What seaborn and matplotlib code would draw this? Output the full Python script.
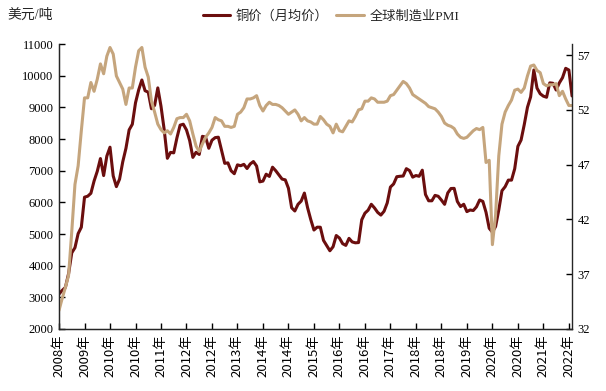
import numpy as np
import pandas as pd
import matplotlib
matplotlib.use('Agg')
import matplotlib.pyplot as plt
import seaborn as sns

# --- data: monthly, Dec 2008 .. May 2022 ---
months = pd.date_range('2008-12-01', periods=162, freq='MS')

copper = [3105,
          3220, 3315, 3750, 4407, 4569, 5014, 5216, 6165, 6196, 6288, 6676, 6982,
          7386, 6848, 7463, 7745, 6838, 6499, 6735, 7284, 7709, 8292, 8469, 9147,
          9556, 9868, 9530, 9483, 8960, 9067, 9619, 9040, 8300, 7394, 7581, 7566,
          8040, 8441, 8471, 8289, 7955, 7423, 7584, 7515, 8088, 8062, 7711, 7966,
          8047, 8061, 7646, 7234, 7250, 7000, 6907, 7187, 7159, 7203, 7071, 7215,
          7291, 7149, 6650, 6674, 6891, 6821, 7113, 7002, 6872, 6737, 6713, 6446,
          5831, 5729, 5940, 6042, 6295, 5833, 5457, 5127, 5217, 5216, 4800, 4639,
          4472, 4599, 4954, 4873, 4696, 4642, 4864, 4751, 4723, 4731, 5451, 5660,
          5755, 5941, 5825, 5684, 5600, 5720, 5985, 6485, 6583, 6812, 6826, 6834,
          7066, 7006, 6799, 6850, 6825, 7018, 6250, 6051, 6051, 6222, 6194, 6073,
          5939, 6300, 6439, 6444, 6030, 5868, 5941, 5709, 5760, 5744, 5860, 6077,
          6031, 5687, 5183, 5058, 5239, 5758, 6369, 6497, 6705, 6704, 7064, 7772,
          7971, 8460, 9005, 9336, 10184, 9612, 9433, 9357, 9323, 9778, 9765, 9551,
          9776, 9941, 10237, 10183, 9363]

pmi = [33.7,
       34.8, 35.8, 36.9, 40.9, 45.2, 46.9, 50.1, 53.1, 53.1, 54.5, 53.7, 54.8,
       56.2, 55.3, 56.9, 57.7, 57.1, 55.1, 54.5, 53.9, 52.5, 54.0, 54.0, 55.9,
       57.4, 57.7, 55.9, 55.0, 52.8, 51.8, 50.7, 50.2, 49.9, 50.1, 49.8, 50.4,
       51.2, 51.3, 51.3, 51.6, 51.0, 49.8, 48.7, 48.2, 48.9, 49.5, 49.9, 50.4,
       51.3, 51.1, 51.0, 50.5, 50.5, 50.4, 50.5, 51.6, 51.8, 52.2, 53.0, 53.0,
       53.1, 53.3, 52.4, 51.9, 52.4, 52.7, 52.5, 52.5, 52.4, 52.2, 51.9, 51.6,
       51.8, 52.0, 51.6, 51.0, 51.3, 51.0, 50.9, 50.7, 50.7, 51.4, 51.1, 50.7,
       50.5, 49.9, 50.7, 50.1, 50.0, 50.5, 51.0, 50.9, 51.4, 52.0, 52.1, 52.8,
       52.8, 53.1, 53.0, 52.7, 52.7, 52.7, 52.8, 53.3, 53.4, 53.8, 54.2, 54.6,
       54.4, 54.0, 53.4, 53.2, 53.0, 52.8, 52.6, 52.3, 52.2, 52.1, 51.8, 51.4,
       50.8, 50.6, 50.5, 50.3, 49.8, 49.5, 49.4, 49.5, 49.8, 50.1, 50.3, 50.2,
       50.4, 47.2, 47.4, 39.7, 42.4, 47.8, 50.7, 51.8, 52.4, 52.9, 53.8, 53.9,
       53.6, 54.0, 55.1, 56.0, 56.1, 55.6, 55.4, 54.4, 54.2, 54.3, 54.3, 54.4,
       53.3, 53.7, 53.0, 52.4, 52.4]

tick_step = 8
tick_pos = list(range(0, len(months), tick_step))
tick_labels = [f'{months[i].year}年' for i in tick_pos]

df = pd.DataFrame({'idx': np.arange(len(months)), 'copper': copper, 'pmi': pmi})

# --- plot ---
sns.set_style('ticks')
plt.rcParams['font.family'] = ['Noto Sans CJK SC', 'DejaVu Sans']
serif = ['Liberation Serif', 'Noto Sans CJK SC']

fig = plt.figure(figsize=(6.06, 3.91), dpi=100)
ax = fig.add_axes([0.0974, 0.1586, 0.8466, 0.7284])
ax2 = ax.twinx()

sns.lineplot(data=df, x='idx', y='copper', ax=ax, color='#6B0E0E', lw=2.2,
             label='铜价（月均价）', legend=False)
sns.lineplot(data=df, x='idx', y='pmi', ax=ax2, color='#C5A57D', lw=2.2,
             label='全球制造业PMI', legend=False)

ax.set_xlim(0, len(months) - 1)
ax.set_ylim(2000, 11000)
ax.set_yticks(range(2000, 11001, 1000))
ax2.set_ylim(32, 58)
ax2.set_yticks(range(32, 58, 5))
ax.set_xticks(tick_pos)
ax.set_xticklabels(tick_labels, rotation=90, fontsize=9.5)

for a in (ax, ax2):
    a.set_xlabel('')
    a.set_ylabel('')
    a.spines['top'].set_visible(False)
    a.tick_params(direction='in', length=4, width=1, colors='black', pad=4)
ax.spines['right'].set_visible(False)
for sp in ('left', 'bottom'):
    ax.spines[sp].set_linewidth(1)
ax2.spines['right'].set_linewidth(1)

for lab in ax.get_yticklabels() + ax2.get_yticklabels():
    lab.set_family(serif)
    lab.set_fontsize(9)

fig.text(0.013, 0.962, '美元/吨', fontsize=10, family=serif, ha='left', va='center')

h1, l1 = ax.get_legend_handles_labels()
h2, l2 = ax2.get_legend_handles_labels()
fig.legend(h1 + h2, l1 + l2, loc='center', bbox_to_anchor=(0.546, 0.959), ncol=2,
           frameon=False, prop={'family': serif, 'size': 9.5},
           handlelength=2.1, handletextpad=0.4, columnspacing=0.6)

fig.savefig('out.png', dpi=100)
